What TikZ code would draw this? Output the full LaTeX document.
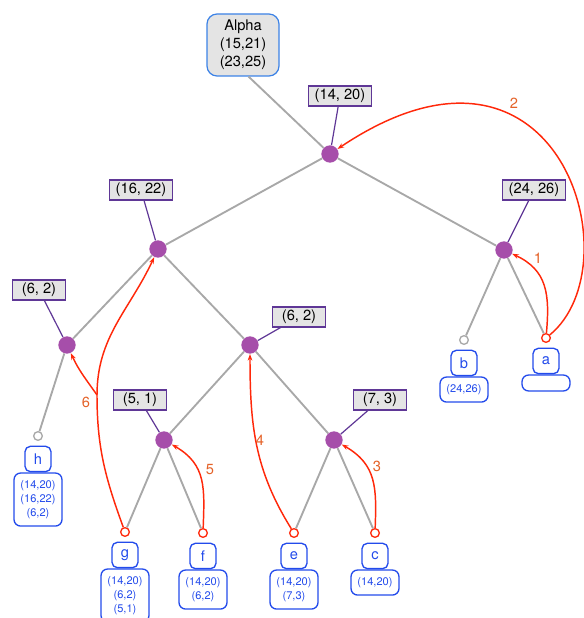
\documentclass[tikz,border=0pt]{standalone}
\usepackage{fontspec}
\setmainfont{TeX Gyre Heros}
\usetikzlibrary{arrows.meta,positioning,calc}

\definecolor{jointpurple}{RGB}{166,78,170}
\definecolor{edgegray}{RGB}{168,168,168}
\definecolor{labpurple}{RGB}{95,55,150}
\definecolor{labfill}{RGB}{228,228,228}
\definecolor{leafblue}{RGB}{35,75,235}
\definecolor{rootblue}{RGB}{60,130,230}
\definecolor{arcred}{RGB}{255,40,10}
\definecolor{numorange}{RGB}{228,98,40}

\begin{document}
\begin{tikzpicture}[x=0.75pt,y=0.75pt,
  joint/.style={circle,fill=jointpurple,minimum size=13pt,inner sep=0pt},
  pairbox/.style={draw=labpurple,fill=labfill,line width=0.8pt,minimum width=40pt,minimum height=15pt,inner xsep=5pt,inner ysep=1pt,font=\fontsize{11}{13}\selectfont},
  rootbox/.style={draw=rootblue,fill=labfill,line width=0.9pt,rounded corners=7.5pt,align=center,minimum width=54pt,minimum height=46.5pt,font=\fontsize{11}{13.5}\selectfont},
  leafpin/.style={circle,fill=white,line width=1pt,minimum size=6.5pt,inner sep=0pt},
  leafbox/.style={draw=leafblue,text=leafblue,line width=1pt,rounded corners=4pt,minimum width=19.5pt,minimum height=19pt,inner sep=0pt,font=\fontsize{11}{13}\selectfont},
  infobox/.style={draw=leafblue,text=leafblue,line width=1pt,rounded corners=5pt,align=center,minimum width=36pt,minimum height=12pt,inner ysep=5.5pt,font=\fontsize{8.3}{10.5}\selectfont},
  treeedge/.style={draw=edgegray,line width=1.4pt},
  labline/.style={draw=labpurple,line width=0.9pt},
  undoarc/.style={draw=arcred,line width=1.1pt,-{Stealth[length=5pt,width=3.5pt]}},
  arcpart/.style={draw=arcred,line width=1.1pt},
  stepnum/.style={text=numorange,font=\fontsize{11}{13}\selectfont}]
\useasboundingbox (0,0) rectangle (584,618);

\node[rootbox] (alpha) at (243,573) {Alpha\\(15,21)\\(23,25)};

% inner nodes with their pairs
\foreach \n/\x/\y/\lx/\ly/\t in {r/330/464/340/522/{(14, 20)}, n1/158/369/141/428/{(16, 22)}, n2/504/368/534/428/{(24, 26)}, n3/67/273/39/328/{(6, 2)}, n4/250/273/299/301/{(6, 2)}, n5/164/178/140/218/{(5, 1)}, n6/334/178/380/218/{(7, 3)}} {
\node[joint] (\n) at (\x,\y) {};
\node[pairbox] (l\n) at (\lx,\ly) {\t};
\draw[labline] (l\n) -- (\n);
}

% leaves
\foreach \n/\x/\y/\c/\i in {h/38/182/edgegray/{(14,20)\\(16,22)\\(6,2)}, g/125/86/arcred/{(14,20)\\(6,2)\\(5,1)}, f/203/85/arcred/{(14,20)\\(6,2)}, e/294/85/arcred/{(14,20)\\(7,3)}, c/375/85/arcred/{(14,20)}, b/464/278/edgegray/{(24,26)}, a/546/280/arcred/{}} {
\node[leafpin,draw=\c] (\n) at (\x,\y) {};
\node[leafbox,below=3.5pt of \n] (box\n) {\n};
\node[infobox,below=0pt of box\n] (info\n) {\i};
}

\draw[treeedge] (alpha.-80) -- (r);
\foreach \s/\t in {r/n1, r/n2, n1/n3, n1/n4, n3/h, n4/n5, n4/n6, n5/g, n5/f, n6/e, n6/c, n2/b, n2/a}
\draw[treeedge] (\s) -- (\t);

% undo arcs
\draw[undoarc] (a) to[out=85,in=-25,looseness=1.15] (n2);
\draw[undoarc] (a) .. controls +(89,73) and +(230,154) .. (r);
\draw[undoarc] (c) to[out=88,in=-30,looseness=1.15] (n6);
\draw[undoarc] (e) to[out=122,in=-90] (n4);
\draw[undoarc] (f) to[out=88,in=-30,looseness=1.15] (n5);
\coordinate (split) at (97,223);
\draw[arcpart] (g) to[out=110,in=-90] (split);
\draw[undoarc] (split) to[out=90,in=-115] (n1);
\draw[undoarc] (split) to[out=125,in=-65] (n3);

\node[stepnum] (k1) at (538,360) {1};
\node[stepnum] (k2) at (514,515) {2};
\node[stepnum] (k3) at (377,152) {3};
\node[stepnum] (k4) at (260,178) {4};
\node[stepnum] (k5) at (210,148) {5};
\node[stepnum] (k6) at (86,216) {6};
\end{tikzpicture}
\end{document}
